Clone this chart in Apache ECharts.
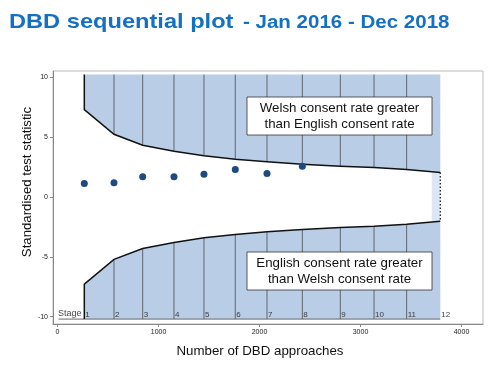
<!DOCTYPE html>
<html>
<head>
<meta charset="utf-8">
<script src="https://cdn.jsdelivr.net/npm/echarts@6/dist/echarts.min.js"></script>
<style>html,body{margin:0;padding:0;background:#fff}#c{width:489px;height:367px}</style>
</head>
<body>
<div id="c"></div>
<script>
// Data
const stageN = [265, 559, 843, 1153, 1450, 1760, 2074, 2424, 2800, 3134, 3457, 3790];
const stageLabels = ['1','2','3','4','5','6','7','8','9','10','11','12'];
const upperBound = [7.28, 5.22, 4.31, 3.81, 3.42, 3.14, 2.92, 2.72, 2.56, 2.45, 2.28, 2.03];
const lowerBound = [-7.28, -5.22, -4.31, -3.81, -3.42, -3.14, -2.92, -2.72, -2.56, -2.45, -2.28, -2.03];
const testStat = [1.11, 1.17, 1.67, 1.67, 1.89, 2.28, 1.95, 2.56];
const xTicks = [0, 1000, 2000, 3000, 4000];
const yTicks = [-10, -5, 0, 5, 10];
const regionEdge = 10.2;
const finalStripStart = 3705;

const FONT = 'Liberation Sans, Arial, sans-serif';
const chart = echarts.init(document.getElementById('c'), null, {renderer: 'canvas'});

function renderRegions(params, api) {
  const c = (x, y) => api.coord([x, y]);
  const n = stageN.length;
  const upPts = [c(stageN[0], regionEdge)];
  const loPts = [c(stageN[0], -regionEdge)];
  for (let i = 0; i < n; i++) { upPts.push(c(stageN[i], upperBound[i])); loPts.push(c(stageN[i], lowerBound[i])); }
  const upPoly = upPts.concat([c(stageN[n-1], regionEdge)]);
  const loPoly = loPts.concat([c(stageN[n-1], -regionEdge)]);
  const children = [];
  const s0 = c(finalStripStart, upperBound[n-1]), s1 = c(stageN[n-1], lowerBound[n-1]);
  children.push({type:'rect', shape:{x:s0[0], y:s0[1], width:s1[0]-s0[0], height:s1[1]-s0[1]}, style:{fill:'#dde7f3'}});
  children.push({type:'polygon', shape:{points:upPoly}, style:{fill:'#b9cde6'}});
  children.push({type:'polygon', shape:{points:loPoly}, style:{fill:'#b9cde6'}});
  for (let i = 1; i < n-1; i++) {
    const a = c(stageN[i], upperBound[i]), b = c(stageN[i], regionEdge);
    children.push({type:'line', shape:{x1:a[0], y1:a[1], x2:b[0], y2:b[1]}, style:{stroke:'#5f6670', lineWidth:1}});
    const d = c(stageN[i], lowerBound[i]), e = c(stageN[i], -regionEdge);
    children.push({type:'line', shape:{x1:d[0], y1:d[1], x2:e[0], y2:e[1]}, style:{stroke:'#5f6670', lineWidth:1}});
  }
  const bl0 = c(0, -regionEdge), bl1 = c(stageN[n-1], -regionEdge);
  children.push({type:'line', shape:{x1:bl0[0]+1, y1:bl0[1], x2:bl1[0], y2:bl1[1]}, style:{stroke:'#666', lineWidth:1}});
  children.push({type:'polyline', shape:{points:upPts}, style:{stroke:'#111', lineWidth:1.5, fill:null}});
  children.push({type:'polyline', shape:{points:loPts}, style:{stroke:'#111', lineWidth:1.5, fill:null}});
  const f0 = c(stageN[n-1], upperBound[n-1]), f1 = c(stageN[n-1], lowerBound[n-1]);
  children.push({type:'line', shape:{x1:f0[0], y1:f0[1], x2:f1[0], y2:f1[1]}, style:{stroke:'#111', lineWidth:1.2, lineDash:[1.5,2]}});
  return {type:'group', children};
}

const option = {
  animation: false,
  grid: {left: 53, right: 6, top: 71, bottom: 43, show: true, borderColor: '#bbbbbb', borderWidth: 1, backgroundColor: 'transparent'},
  xAxis: {
    type: 'value', min: -45, max: 4213,
    axisLine: {show: true, onZero: false, lineStyle: {color: '#888'}},
    axisTick: {show: true, length: 3, lineStyle: {color: '#888'}, customValues: xTicks},
    axisLabel: {fontFamily: FONT, fontSize: 7, color: '#222', margin: 5, customValues: xTicks, formatter: v => String(v)},
    splitLine: {show: false}
  },
  yAxis: {
    type: 'value', min: -10.61, max: 10.5,
    axisLine: {show: true, onZero: false, lineStyle: {color: '#888'}},
    axisTick: {show: true, length: 3, lineStyle: {color: '#888'}, customValues: yTicks},
    axisLabel: {fontFamily: FONT, fontSize: 7, color: '#222', margin: 5, customValues: yTicks, formatter: v => String(v)},
    splitLine: {show: false}
  },
  series: [
    {type: 'custom', renderItem: renderRegions, data: [[0, 0]], silent: true, z: 1},
    {
      type: 'scatter', symbol: 'circle', symbolSize: 7, z: 3,
      itemStyle: {color: '#1d4a80', opacity: 1},
      data: testStat.map((v, i) => [stageN[i], v])
    },
    {
      type: 'scatter', symbolSize: 0, z: 4, silent: true,
      data: stageN.map((x, i) => ({value: [x, -9.82], name: stageLabels[i]})),
      label: {show: true, position: 'right', distance: 1, formatter: p => p.name, fontFamily: FONT, fontSize: 8, color: '#111'}
    },
    {
      type: 'scatter', symbolSize: 0, z: 4, silent: true,
      data: [{value: [5, -9.75], name: 'Stage'}],
      label: {show: true, position: 'right', distance: 0, formatter: p => p.name, fontFamily: FONT, fontSize: 9, color: '#111'}
    }
  ],
  graphic: [
    {type: 'text', x: 9, y: 11.5, z: 100, scaleX: 1.125, style: {text: 'DBD sequential plot', fontFamily: FONT, fontWeight: 'bold', fontSize: 21, fill: '#1470C4', verticalAlign: 'top'}},
    {type: 'text', x: 243, y: 14, z: 100, scaleX: 1.14, style: {text: '- Jan 2016 - Dec 2018', fontFamily: FONT, fontWeight: 'bold', fontSize: 18, fill: '#1470C4', verticalAlign: 'top'}},
    {type: 'text', x: 27, y: 182, z: 100, rotation: Math.PI / 2, style: {text: 'Standardised test statistic', fontFamily: FONT, fontSize: 13.2, fill: '#111', align: 'center', verticalAlign: 'middle'}},
    {type: 'text', x: 260, y: 351, z: 100, style: {text: 'Number of DBD approaches', fontFamily: FONT, fontSize: 13.3, fill: '#111', align: 'center', verticalAlign: 'middle'}},
    {type: 'rect', z: 100, shape: {x: 247, y: 97, width: 185, height: 38}, style: {fill: '#fff', stroke: '#333', lineWidth: 0.8}},
    {type: 'text', z: 101, x: 339.5, y: 116, style: {text: 'Welsh consent rate greater\nthan English consent rate', fontFamily: FONT, fontSize: 13.3, lineHeight: 16, fill: '#111', align: 'center', verticalAlign: 'middle'}},
    {type: 'rect', z: 100, shape: {x: 247, y: 252, width: 185, height: 38}, style: {fill: '#fff', stroke: '#333', lineWidth: 0.8}},
    {type: 'text', z: 101, x: 339.5, y: 271, style: {text: 'English consent rate greater\nthan Welsh consent rate', fontFamily: FONT, fontSize: 13.3, lineHeight: 16, fill: '#111', align: 'center', verticalAlign: 'middle'}}
  ]
};
chart.setOption(option);
</script>
</body>
</html>
